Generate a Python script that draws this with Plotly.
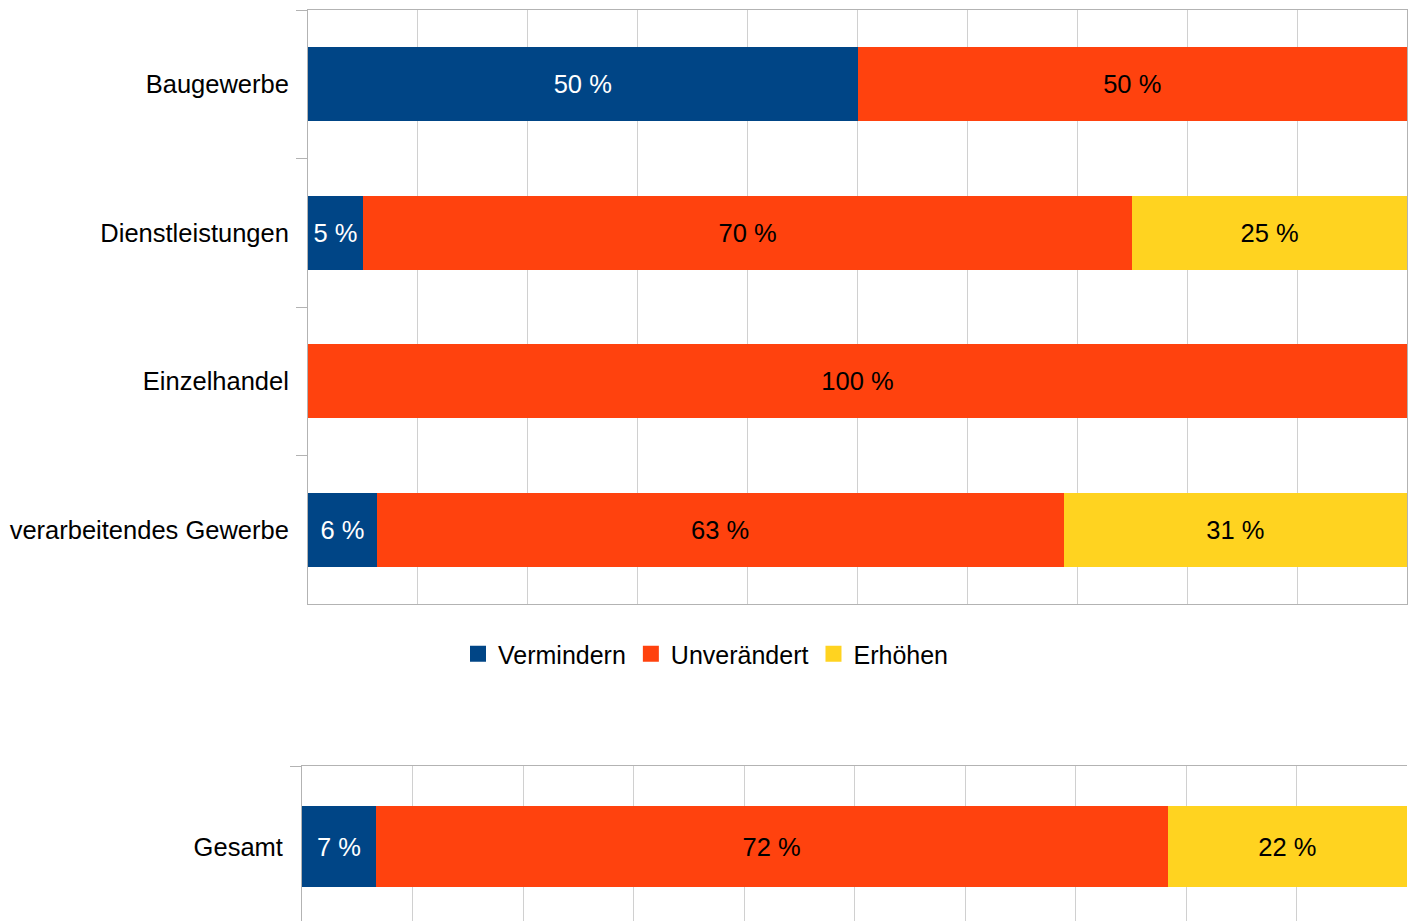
import plotly.graph_objects as go

categories = ["Baugewerbe", "Dienstleistungen", "Einzelhandel", "verarbeitendes Gewerbe"]
vermindern = [50, 5, None, 6.25]
unveraendert = [50, 70, 100, 62.5]
erhoehen = [None, 25, None, 31.25]

total_cat = ["Gesamt"]
total_vermindern = [6.67]
total_unveraendert = [71.66]
total_erhoehen = [21.67]

series_names = ["Vermindern", "Unverändert", "Erhöhen"]
colors = ["#004586", "#ff420e", "#ffd320"]
text_colors = ["white", "black", "black"]

FONT = "Liberation Sans, Arial, sans-serif"
FS = 25.5
W, H = 1413, 921

fig = go.Figure()

top_series = [vermindern, unveraendert, erhoehen]
bot_series = [total_vermindern, total_unveraendert, total_erhoehen]

for name, vals, col, tc in zip(series_names, top_series, colors, text_colors):
    fig.add_trace(go.Bar(
        y=categories, x=vals, orientation="h", name=name,
        marker=dict(color=col, line=dict(width=0)),
        texttemplate="%{x:.0f} %", textposition="inside", insidetextanchor="middle",
        textangle=0, constraintext="none",
        textfont=dict(color=tc, size=FS, family=FONT),
        showlegend=False, xaxis="x", yaxis="y", hoverinfo="skip",
    ))

for name, vals, col, tc in zip(series_names, bot_series, colors, text_colors):
    fig.add_trace(go.Bar(
        y=total_cat, x=vals, orientation="h", name=name,
        marker=dict(color=col, line=dict(width=0)),
        texttemplate="%{x:.0f} %", textposition="inside", insidetextanchor="middle",
        textangle=0, constraintext="none",
        textfont=dict(color=tc, size=FS, family=FONT),
        showlegend=False, xaxis="x2", yaxis="y2", hoverinfo="skip",
    ))

# legend entries
for name, col in zip(series_names, colors):
    fig.add_trace(go.Scatter(
        x=[None], y=[None], mode="markers", name=name,
        marker=dict(symbol="square", size=16, color=col),
        xaxis="x", yaxis="y", showlegend=True,
    ))

grid = "#d0d0d0"
line = "#b3b3b3"

fig.update_layout(
    width=W, height=H,
    margin=dict(l=0, r=0, t=0, b=0),
    paper_bgcolor="white", plot_bgcolor="white",
    barmode="stack", bargap=0.5,
    font=dict(family=FONT, size=FS, color="black"),
    xaxis=dict(domain=[308 / W, 1407 / W], range=[0, 100], dtick=10,
               showticklabels=False, showgrid=True, gridcolor=grid, gridwidth=1,
               zeroline=False, showline=True, linecolor=line, mirror=True,
               anchor="y"),
    yaxis=dict(domain=[1 - 604 / H, 1 - 10 / H], range=[3.5, -0.5],
               type="category", categoryorder="array", categoryarray=categories,
               tickson="boundaries", ticks="outside", ticklen=11, tickcolor=line,
               showgrid=False, showline=True, linecolor=line, mirror=True,
               ticklabelstandoff=13, anchor="x"),
    xaxis2=dict(domain=[302 / W, 1407 / W], range=[0, 100], dtick=10,
                showticklabels=False, showgrid=True, gridcolor=grid, gridwidth=1,
                zeroline=False, showline=True, linecolor=line, mirror=True,
                anchor="y2"),
    yaxis2=dict(domain=[0, 1 - 766 / H], range=[-0.457, 0.5],
                type="category", tickson="boundaries", ticks="outside", ticklen=11,
                tickcolor=line, showgrid=False, showline=True, linecolor=line,
                ticklabelstandoff=13, anchor="x2"),
    legend=dict(orientation="h", x=706 / W, y=1 - 654 / H, xanchor="center",
                yanchor="middle", font=dict(size=25, family=FONT),
                traceorder="normal", itemwidth=30, tracegroupgap=0,
                bgcolor="rgba(0,0,0,0)"),
)

fig.write_html("out.html", config={"displayModeBar": False},
               post_script="document.body.style.margin='0';document.body.style.overflow='hidden';")
